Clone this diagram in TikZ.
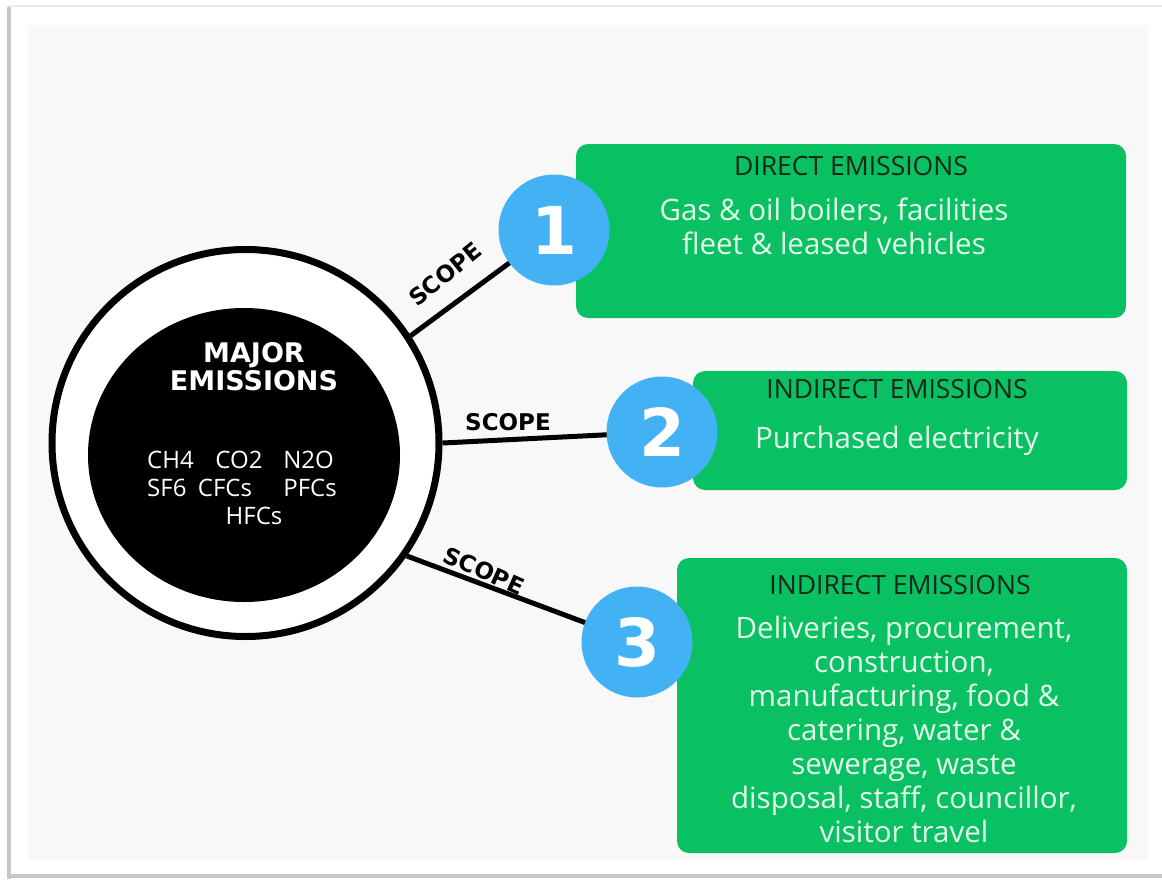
\documentclass[tikz,border=0pt]{standalone}
\usepackage{fontspec}
\setmainfont{Open Sans}
\newfontfamily\boldfam{DejaVu Sans}
\usetikzlibrary{shapes.geometric}
\definecolor{boxgreen}{RGB}{9,192,98}
\definecolor{numblue}{RGB}{66,178,245}
\definecolor{paneltone}{RGB}{248,248,248}
\definecolor{headtext}{RGB}{22,38,28}
\definecolor{bodytext}{RGB}{230,250,236}
\tikzset{
  greenbox/.style={fill=boxgreen, rounded corners=12pt, draw=none},
  numcircle/.style={circle, fill=numblue, minimum size=111pt, inner sep=0pt, text=white, font=\boldfam\bfseries\fontsize{66}{66}\selectfont},
  connector/.style={line width=5pt, black},
  scopelabel/.style={font=\boldfam\bfseries\fontsize{23}{23}\selectfont, inner sep=0pt},
  heading/.style={font=\fontsize{26.5}{26.5}\selectfont, text=headtext, inner sep=0pt, anchor=base},
  body/.style={font=\fontsize{29.5}{34}\selectfont, text=bodytext, inner sep=0pt, align=center},
  gas/.style={font=\fontsize{24}{24}\selectfont, text=white, inner sep=0pt, anchor=base},
}
\begin{document}
\begin{tikzpicture}[x=1pt,y=-1pt]
\useasboundingbox (0,0) rectangle (1162,879);
\fill[white] (0,0) rectangle (1162,879);
% frame shadow
\fill[black!8] (8,5) rectangle (1162,7);
\fill[black!22] (7,7) rectangle (11,879);
\fill[black!22] (7,874) rectangle (1162,878);
\fill[white] (11,7) rectangle (1162,874);
\fill[paneltone] (28,25) rectangle (1148,861);

% green boxes
\path[greenbox] (576,144) rectangle (1126,318);
\path[greenbox] (693,371) rectangle (1127,490);
\path[greenbox] (677,558) rectangle (1127,853);

% main circle
\node[circle, draw=black, line width=7pt, fill=white, minimum size=387pt, inner sep=0pt] (ring) at (245.5,443) {};
\node[ellipse, fill=black, minimum width=312pt, minimum height=294pt, inner sep=0pt] (disk) at (244,455) {};
\node[font=\boldfam\bfseries\fontsize{27}{28}\selectfont, text=white, align=center, inner sep=0pt, anchor=base] (title) at (254,390) {MAJOR\\EMISSIONS};

\node[gas, anchor=base west] (g1) at (147,468) {CH4};
\node[gas] (g2) at (239,468) {CO2};
\node[gas, anchor=base east] (g3) at (334,468) {N2O};
\node[gas, anchor=base west] (g4) at (147,496) {SF6};
\node[gas] (g5) at (225,496) {CFCs};
\node[gas, anchor=base east] (g6) at (337,496) {PFCs};
\node[gas] (g7) at (254,524) {HFCs};

% connectors
\draw[connector] (ring.33) -- (554,230);
\draw[connector] (ring.0) -- (662,432);
\draw[connector] (ring.-35) -- (637,642);

% blue number circles (on top of connectors and boxes)
\node[numcircle] (b1) at (554,230) {1};
\node[numcircle] (b2) at (662,432) {2};
\node[numcircle] (b3) at (637,642) {3};

% scope labels
\node[scopelabel, rotate=39] (s1) at (445,274) {SCOPE};
\node[scopelabel] (s2) at (508,422) {SCOPE};
\node[scopelabel, rotate=-24] (s3) at (484,571) {SCOPE};

% box texts
\node[heading] (h1) at (851,175) {DIRECT EMISSIONS};
\node[body, anchor=base] (t1a) at (834,220) {Gas \& oil boilers, facilities};
\node[body, anchor=base] (t1b) at (834,254) {fleet \& leased vehicles};

\node[heading] (h2) at (897,398) {INDIRECT EMISSIONS};
\node[body, anchor=base] (t2) at (897,448) {Purchased electricity};

\node[heading] (h3) at (900,594) {INDIRECT EMISSIONS};
\node[body, anchor=north] (t3) at (904,616) {Deliveries, procurement,\\construction,\\manufacturing, food \&\\catering, water \&\\sewerage, waste\\disposal, staff, councillor,\\visitor travel};
\end{tikzpicture}
\end{document}
